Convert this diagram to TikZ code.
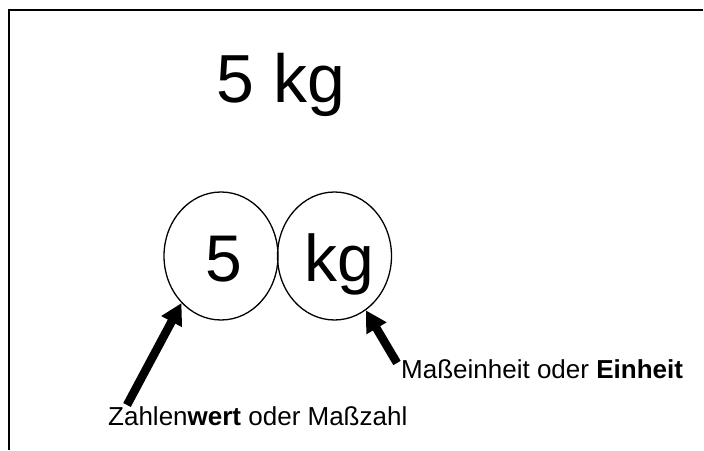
\documentclass[tikz,border=0pt]{standalone}
\usepackage{fontspec}
\setmainfont{Liberation Sans}
\usetikzlibrary{arrows.meta,shapes.geometric}
\begin{document}
\begin{tikzpicture}[x=1pt,y=1pt,
  frame/.style={line width=1.2pt},
  part/.style={draw, ellipse, line width=1.3pt, inner sep=0pt,
    minimum width=114pt, minimum height=128pt},
  titletext/.style={font=\fontsize{68}{72}\selectfont, inner sep=0pt, anchor=base},
  bigtext/.style={font=\fontsize{66}{70}\selectfont, inner sep=0pt, anchor=base},
  caption/.style={font=\fontsize{26}{30}\selectfont, inner sep=0pt, anchor=base west},
  pointer/.style={line width=8.5pt, -{Triangle[width=22pt,length=21pt]}}]
  \useasboundingbox (0,0) rectangle (704,450);

  % frame: top and left edges only
  \coordinate (fa) at (9,0);
  \coordinate (fb) at (9,440);
  \coordinate (fc) at (703,440);
  \draw[frame] (fa) -- (fb) -- (fc);

  % the quantity as a whole
  \node[titletext] (title) at (281,347) {5 kg};

  % its two parts
  \node[part] (num) at (221,194) {};
  \node[part] (unit) at (334.5,194) {};
  \node[bigtext] (five) at (223.5,168) {5};
  \node[bigtext] (kg) at (339.5,168) {kg};

  % captions
  \node[caption] (numcap) at (108,25) {Zahlen\textbf{wert} oder Maßzahl};
  \node[caption] (unitcap) at (401,72) {Maßeinheit oder \textbf{Einheit}};

  % pointers from captions to the parts
  \coordinate (tl) at (127,45);
  \coordinate (tr) at (397,87);
  \draw[pointer] (tl) -- (num.230);
  \draw[pointer] (tr) -- (unit.-60);
\end{tikzpicture}
\end{document}
